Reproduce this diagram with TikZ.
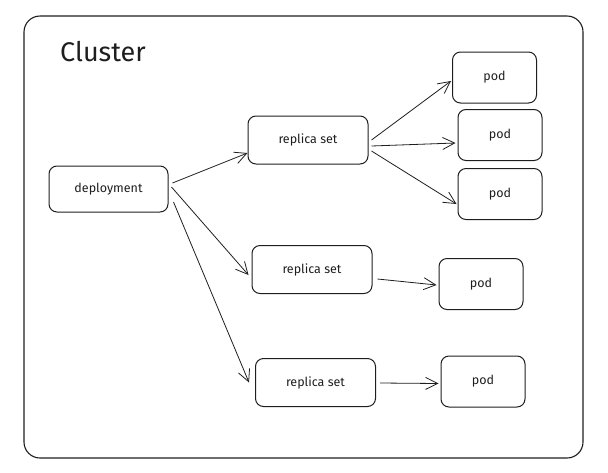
\documentclass[tikz,border=0pt]{standalone}
\usepackage{fontspec}
\setmainfont{Fira Sans}
\usepackage{tikz}
\usetikzlibrary{arrows.meta, calc}
\definecolor{ink}{HTML}{1E1E1E}

\tikzset{
  box/.style={draw=ink, line width=1pt, rounded corners=8pt, font=\fontsize{12.5}{15}\selectfont, text=ink},
  rsbox/.style={box, minimum width=120pt, minimum height=48pt},
  podbox/.style={box, minimum width=84pt, minimum height=51pt},
  arr/.style={draw=ink, line width=0.8pt, -{Straight Barb[length=12pt, width=12pt, line width=0.8pt]}}
}

\begin{document}
\begin{tikzpicture}[x=1pt, y=-1pt]
        \useasboundingbox (0,0) rectangle (608,472);
        \draw[ink, line width=1.1pt, rounded corners=16pt] (24,16) rectangle (583,458);
        \node[text=ink, font=\fontsize{27}{32}\selectfont] (title) at (103,52) {Cluster};

        \node[box, minimum width=119pt, minimum height=46pt] (dep) at (108.5,189) {deployment};
        \node[rsbox] (rs1) at (308,140) {replica set};
        \node[rsbox] (rs2) at (312,269.5) {replica set};
        \node[rsbox] (rs3) at (315.5,382.5) {replica set};
        \node[podbox] (pod1) at (494.5,77.5) {pod};
        \node[podbox] (pod2) at (500,135) {pod};
        \node[podbox] (pod3) at (500,194) {pod};
        \node[podbox] (pod4) at (481,284) {pod};
        \node[podbox] (pod5) at (483,381.5) {pod};

        \draw[arr] ($(dep.east)+(4,-6)$) -- ($(rs1.west)+(0,13)$);
        \draw[arr] ($(dep.east)+(3,-2)$) -- ($(rs2.west)+(-3,5.5)$);
        \draw[arr] ($(dep.east)+(5,13)$) -- ($(rs3.west)+(-6,0)$);
        \draw[arr] ($(rs1.east)+(3,0)$) -- ($(pod1.west)+(-1,3.5)$);
        \draw[arr] ($(rs1.east)+(3,6)$) -- ($(pod2.west)+(-2,8)$);
        \draw[arr] ($(rs1.east)+(3,11)$) -- ($(pod3.west)+(-1,10)$);
        \draw[arr] ($(rs2.east)+(5,9.5)$) -- ($(pod4.west)+(-2,1)$);
        \draw[arr] ($(rs3.east)+(4,0.5)$) -- ($(pod5.west)+(-2,2)$);
    \end{tikzpicture}
\end{document}
